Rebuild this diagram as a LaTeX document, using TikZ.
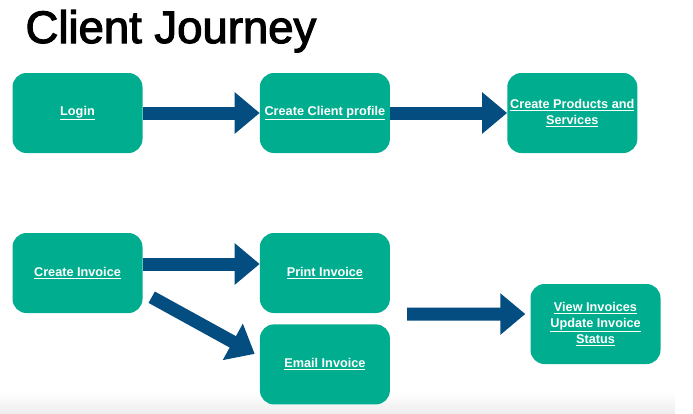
\documentclass[tikz,border=0pt]{standalone}
\usepackage{fontspec}
\setmainfont{Liberation Sans}
\newfontfamily\titlefont{Liberation Sans}[FakeBold=2.5]
\usetikzlibrary{positioning,arrows.meta}
\definecolor{boxgreen}{RGB}{0,173,142}
\definecolor{flowblue}{RGB}{3,77,128}

\begin{document}
\begin{tikzpicture}[x=1pt, y=-1pt,
  block/.style={rectangle, rounded corners=14pt, fill=boxgreen, text=white, minimum width=130pt, minimum height=80pt, inner sep=1pt, align=center, font=\bfseries\fontsize{12.7}{16}\selectfont},
  flow/.style={draw=flowblue, line width=13pt, -{Triangle[length=25pt, width=40pt]}},
  node distance=117pt]
  \useasboundingbox (0,0) rectangle (693,413);
  \shade[top color=white, bottom color=black!7] (0,393) rectangle (675,413);

  \node[anchor=base west, font=\titlefont\fontsize{45.5}{50}\selectfont] (title) at (22,43) {Client Journey};

  \node[block] (login) at (77.5,113) {\underline{Login}};
  \node[block, right=of login] (profile) {\underline{Create Client profile}};
  \node[block, right=of profile] (products) {\underline{Create Products and}\\\underline{Services}};

  \node[block] (invoice) at (77.5,273) {\underline{Create Invoice}};
  \node[block, right=of invoice] (print) {\underline{Print Invoice}};
  \node[block, below=11pt of print] (email) {\underline{Email Invoice}};
  \node[block] (status) at (595.5,324) {\underline{View Invoices}\\\underline{Update Invoice}\\\underline{Status}};

  \draw[flow] (login) -- (profile);
  \draw[flow] (profile) -- (products);
  \draw[flow] ([shift={(0,-9)}]invoice.east) -- ([shift={(0,-9)}]print.west);
  \draw[flow] ([shift={(9,-16)}]invoice.south east) -- ([shift={(-5,-10.5)}]email.west);
  \draw[flow] ([shift={(17,1)}]print.south east) -- ([shift={(-5,-10)}]status.west);

\end{tikzpicture}
\end{document}
